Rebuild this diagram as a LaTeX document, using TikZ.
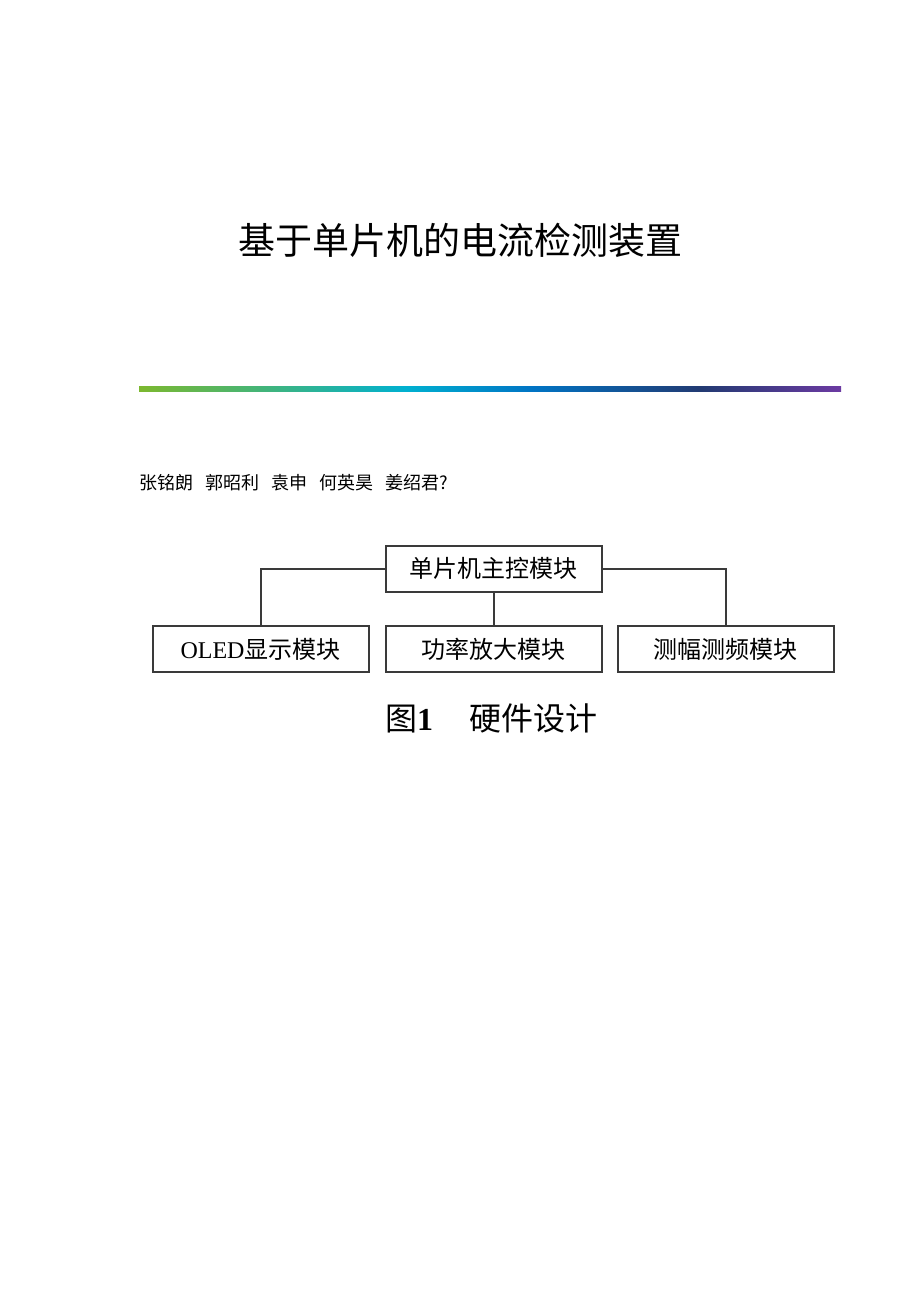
\documentclass[tikz,border=0pt]{standalone}
\usepackage{fontspec}
\setmainfont{Liberation Serif}
\newfontfamily\cjk{Noto Sans CJK SC}
\definecolor{barA}{HTML}{7CB82F}
\definecolor{barB}{HTML}{00B0D0}
\definecolor{barC}{HTML}{0074C4}
\definecolor{barD}{HTML}{223A72}
\definecolor{barE}{HTML}{6C3AA2}
\definecolor{linegray}{HTML}{3A3A3A}
\pgfdeclarehorizontalshading{barshade}{100bp}{color(0bp)=(barA); color(25bp)=(barA); color(44bp)=(barB); color(53bp)=(barC); color(65bp)=(barD); color(75bp)=(barE); color(100bp)=(barE)}
\begin{document}
\begin{tikzpicture}[x=1pt,y=-1pt,
  modbox/.style={draw=linegray,line width=2pt,minimum width=216pt,minimum height=46pt,inner sep=0pt,font=\fontsize{24}{27}\selectfont},
  link/.style={draw=linegray,line width=2pt}]
   \useasboundingbox (0,0) rectangle (920,1302);
   \node (title) at (460,240) {\cjk\fontsize{37}{40}\selectfont 基于单片机的电流检测装置};
   \shade[shading=barshade] (139,386) rectangle (841,391.5);
   \node[anchor=west,inner sep=0pt] (authors) at (139,483) {\cjk\fontsize{18}{20}\selectfont 张铭朗\hspace{12pt}郭昭利\hspace{12pt}袁申\hspace{12pt}何英昊\hspace{12pt}姜绍君?};
   \node[modbox] (main) at (493.5,568.5) {\cjk 单片机主控模块};
   \node[modbox] (oled) at (260.5,649) {OLED\cjk 显示模块};
   \node[modbox] (amp)  at (493.5,649) {\cjk 功率放大模块};
   \node[modbox] (meas) at (725.5,649) {\cjk 测幅测频模块};
   \draw[link] (main.west) -| (oled.north);
   \draw[link] (main.east) -| (meas.north);
   \draw[link] (main.south) -- (amp.north);
   \node[anchor=west,inner sep=0pt] (caption) at (385,718) {\fontsize{32}{35}\selectfont{\cjk 图}{\bfseries 1}\hspace{36pt}{\cjk 硬件设计}};
\end{tikzpicture}
\end{document}
